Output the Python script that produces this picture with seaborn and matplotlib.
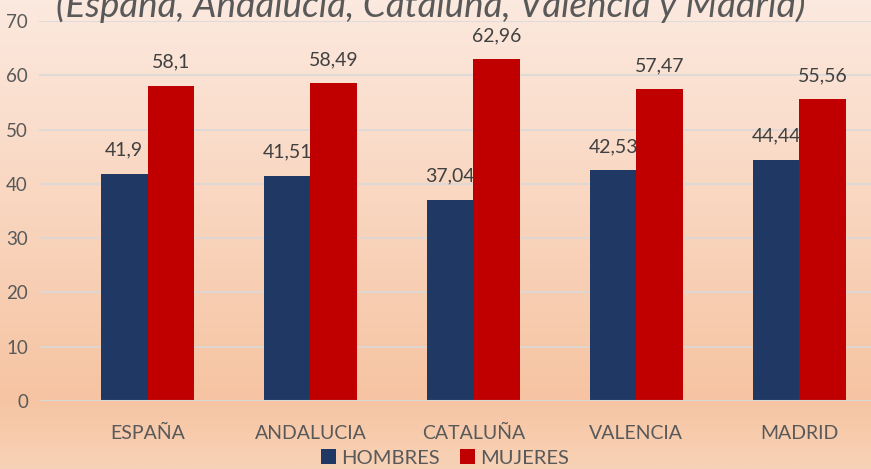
import numpy as np
import pandas as pd
import seaborn as sns
import matplotlib.pyplot as plt

regions = ["ESPAÑA", "ANDALUCIA", "CATALUÑA", "VALENCIA", "MADRID"]
hombres = [41.9, 41.51, 37.04, 42.53, 44.44]
mujeres = [58.1, 58.49, 62.96, 57.47, 55.56]
series_names = ["HOMBRES", "MUJERES"]
title_text = "(España, Andalucía, Cataluña, Valencia y Madrid)"

NAVY = "#1F3864"
RED = "#C00000"
GRAY = "#595959"

df = pd.DataFrame({
	"region": regions * 2,
	"serie": [series_names[0]] * len(regions) + [series_names[1]] * len(regions),
	"valor": hombres + mujeres,
})

sns.set_theme(style="white")
plt.rcParams["font.family"] = ["Lato", "DejaVu Sans"]

fig = plt.figure(figsize=(8.71, 4.69), dpi=100)

# background gradient (light peach at top, orange towards bottom)
bg = fig.add_axes([0, 0, 1, 1], zorder=-10)
top = np.array([252, 233, 223]) / 255
mid = np.array([246, 196, 162]) / 255
bot = np.array([248, 210, 182]) / 255
t = np.linspace(0, 1, 300)[:, None]
grad = np.where(t < 0.85, top + (mid - top) * (t / 0.85), mid + (bot - mid) * ((t - 0.85) / 0.15))
bg.imshow(grad[:, None, :], aspect="auto", extent=[0, 1, 0, 1])
bg.set_axis_off()

ax = fig.add_axes([39 / 871, 1 - 401 / 469, 1 - 39 / 871, (401 - 21) / 469])
ax.patch.set_alpha(0)

sns.barplot(data=df, x="region", y="valor", hue="serie", palette=[NAVY, RED],
	width=0.57, gap=0, saturation=1, linewidth=0, ax=ax, legend=True)

ax.set_ylim(0, 70)
ax.set_xlim(-0.666, 4.44)
ax.set_yticks(range(0, 71, 10))
ax.yaxis.grid(True, color="#D9D9D9", linewidth=1.2)
ax.set_axisbelow(True)
for s in ax.spines.values():
	s.set_visible(False)
ax.axhline(0, color="#D9D9D9", linewidth=1.5)
ax.set_xlabel("")
ax.set_ylabel("")
ax.tick_params(axis="y", colors=GRAY, labelsize=13.5, length=0, pad=8)
ax.tick_params(axis="x", colors=GRAY, labelsize=14, length=0, pad=17)

for cont in ax.containers:
	for bar, v in zip(cont.patches, cont.datavalues):
		ax.annotate(f"{v:g}".replace(".", ","),
			(bar.get_x() + bar.get_width() / 2, bar.get_height()),
			xytext=(0, 13), textcoords="offset points",
			ha="center", va="baseline", color="#404040", fontsize=14)

handles, labs = ax.get_legend_handles_labels()
ax.get_legend().remove()
fig.legend(handles, labs, loc="center", bbox_to_anchor=(0.511, 1 - 458 / 469),
	ncol=2, frameon=False, fontsize=14.5, labelcolor=GRAY,
	handlelength=0.75, handleheight=0.75, handletextpad=0.25, columnspacing=1.0,
	borderpad=0, borderaxespad=0)

fig.text(0.495, 1 - 17 / 469, title_text, ha="center", va="baseline",
	fontsize=26.5, style="italic", color=GRAY)

fig.savefig("out.png", dpi=100)
